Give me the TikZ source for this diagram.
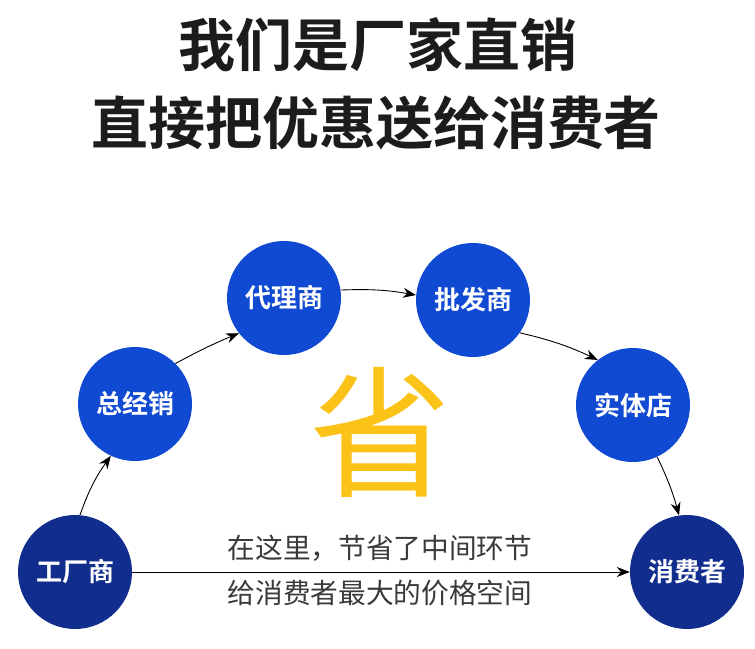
\documentclass[tikz,border=0pt]{standalone}
\usepackage{fontspec}
\newfontfamily\cjk{Noto Sans CJK SC}
\newfontfamily\cjkb{Noto Sans CJK SC Bold}
\usetikzlibrary{arrows.meta}
\definecolor{navy}{HTML}{112E8E}
\definecolor{royal}{HTML}{1049D2}
\definecolor{gold}{HTML}{FBC218}
\definecolor{txt}{HTML}{1C1C1C}
\definecolor{gtxt}{HTML}{3A3A3A}
\tikzset{
  stage/.style={circle, minimum size=114pt, inner sep=0pt, fill=royal, text=white, font=\cjkb\fontsize{26}{26}\selectfont},
  endstage/.style={stage, fill=navy},
  link/.style={-{Stealth[length=13pt,width=10pt]}, line width=0.9pt, black},
  title/.style={text=txt, font=\cjkb\fontsize{57}{57}\selectfont, inner sep=0pt},
  note/.style={text=gtxt, font=\cjk\fontsize{27.7}{27.7}\selectfont, inner sep=0pt}
}
\begin{document}
\begin{tikzpicture}[x=1pt,y=-1pt]
\useasboundingbox[fill=white] (0,0) rectangle (755,648);
\node[title] (t1) at (378,45) {我们是厂家直销};
\node[title] (t2) at (376,123) {直接把优惠送给消费者};
\node[text=gold, font=\cjk\fontsize{142}{142}\selectfont, inner sep=0pt] (sheng) at (380,432) {省};
\node[endstage] (a) at (75,572) {工厂商};
\node[stage] (b) at (135,404) {总经销};
\node[stage] (c) at (284,298) {代理商};
\node[stage] (d) at (473,300) {批发商};
\node[stage] (e) at (633,405) {实体店};
\node[endstage] (f) at (687,572) {消费者};
\draw[link] (a.85) to[bend left=8] (b.245);
\draw[link] (b.45) to[bend left=3] (c.218);
\draw[link] (c.8) to[bend left=6] (d.175);
\draw[link] (d.-35) to[bend left=6] (e.128);
\draw[link] (e.-65) to[bend left=5] (f.98);
\draw[link] (a.east) -- (f.west);
\node[note] (n1) at (380,548) {在这里，节省了中间环节};
\node[note] (n2) at (380,593) {给消费者最大的价格空间};
\end{tikzpicture}
\end{document}
